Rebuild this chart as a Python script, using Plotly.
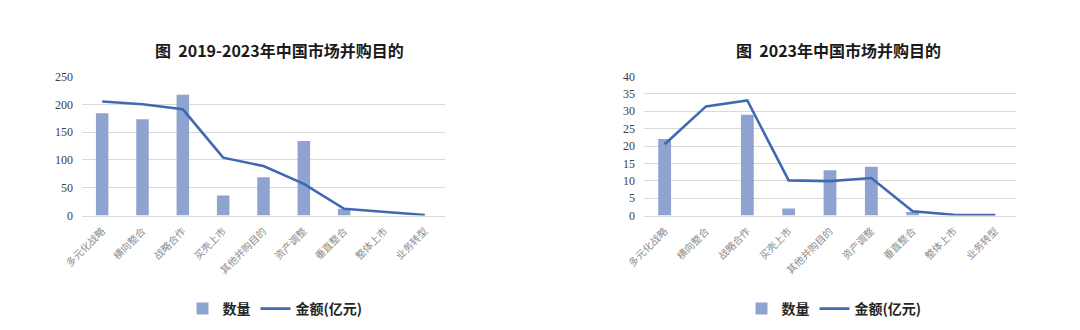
import plotly.graph_objects as go

categories = ["多元化战略", "横向整合", "战略合作", "买壳上市", "其他并购目的",
              "资产调整", "垂直整合", "整体上市", "业务转型"]

# 2019-2023 cumulative
count_all = [184, 173, 217, 36, 69, 134, 12, 0, 0]
amount_all = [205, 200, 191, 104, 89, 57, 12, 6, 1]

# 2023 only
count_2023 = [22, 0, 29, 2, 13, 14, 1, 0, 0]
amount_2023 = [20.5, 31.4, 33.1, 10.1, 9.9, 10.8, 1.2, 0.2, 0.1]

titles = ["图  2019-2023年中国市场并购目的", "图  2023年中国市场并购目的"]
y_ticks_all = [0, 50, 100, 150, 200, 250]
y_ticks_2023 = [0, 5, 10, 15, 20, 25, 30, 35, 40]

BAR_COLOR = "#8fa3d1"
LINE_COLOR = "#4169b3"
GRID = "#d9d9d9"
CJK = "Noto Sans CJK SC"

fig = go.Figure()

panels = [
    dict(xa="x", ya="y", xref="xaxis", yref="yaxis", counts=count_all, amounts=amount_all,
         dom=[82 / 1080, 445 / 1080], ticks=y_ticks_all, legend="legend",
         title=titles[0], tx=279 / 1080, lx=275 / 1080),
    dict(xa="x2", ya="y2", xref="xaxis2", yref="yaxis2", counts=count_2023, amounts=amount_2023,
         dom=[644 / 1080, 1016 / 1080], ticks=y_ticks_2023, legend="legend2",
         title=titles[1], tx=838 / 1080, lx=834 / 1080),
]

ydom = [(330 - 215.5) / 330, (330 - 76.5) / 330]

for p in panels:
    fig.add_trace(go.Bar(
        x=categories, y=p["counts"], name="数量", xaxis=p["xa"], yaxis=p["ya"],
        marker=dict(color=BAR_COLOR, line=dict(width=0)), width=0.31,
        legend=p["legend"],
    ))
    fig.add_trace(go.Scatter(
        x=categories, y=p["amounts"], name="金额(亿元)", mode="lines",
        xaxis=p["xa"], yaxis=p["ya"], line=dict(color=LINE_COLOR, width=2.6),
        legend=p["legend"],
    ))
    fig.layout[p["xref"]] = dict(
        domain=p["dom"], anchor=p["ya"], type="category", automargin=False,
        showgrid=False, showline=True, linecolor=GRID, linewidth=1,
        ticks="", tickangle=-45, ticklabelstandoff=5,
        tickfont=dict(family=CJK, size=10, color="#8c8c8c"),
    )
    fig.layout[p["yref"]] = dict(
        domain=ydom, anchor=p["xa"], range=[0, p["ticks"][-1]], automargin=False,
        tickvals=p["ticks"], showgrid=True, gridcolor=GRID, gridwidth=1,
        zeroline=False, showline=False, ticks="", ticklabelstandoff=8,
        tickfont=dict(family="Liberation Serif", size=12, color="#404040"),
    )
    fig.add_annotation(
        text=p["title"], xref="paper", yref="paper", x=p["tx"], y=1 - 50 / 330,
        xanchor="center", yanchor="middle", showarrow=False,
        font=dict(family=CJK, size=16, color="#1a1a1a", weight="bold"),
    )
    fig.layout[p["legend"]] = dict(
        orientation="h", x=p["lx"], xanchor="center", y=1 - 309 / 330, yanchor="middle",
        font=dict(family=CJK, size=14, color="#262626", weight="bold"),
        bgcolor="rgba(0,0,0,0)", itemwidth=30, tracegroupgap=0,
    )

fig.update_layout(
    width=1080, height=330, margin=dict(l=0, r=0, t=0, b=0),
    paper_bgcolor="white", plot_bgcolor="white", showlegend=True,
    bargap=0.69,
)

fig.write_html("out.html")
